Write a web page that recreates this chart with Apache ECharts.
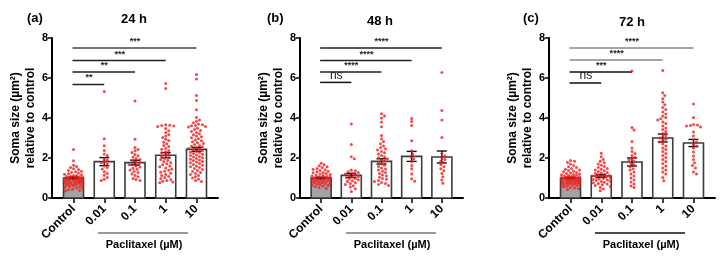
<!DOCTYPE html>
<html>
<head>
<meta charset="utf-8">
<script src="https://cdn.jsdelivr.net/npm/echarts@6/dist/echarts.min.js"></script>
<style>
  html, body { margin: 0; padding: 0; background: #fff; }
  #main { width: 722px; height: 258px; }
</style>
</head>
<body>
<div id="main"></div>
<script>
  var categories = ["Control", "0.01", "0.1", "1", "10"]
  var yTicks = [0, 2, 4, 6, 8]

  // 24 h
  var h24Control = [2.42, 1.86, 1.64, 1.57, 1.52, 1.46, 1.43, 1.37, 1.34, 1.31, 1.27, 1.25, 1.21, 1.19, 1.16, 1.13, 1.12, 1.09, 1.07, 1.06, 1.04, 1.02, 1.01, 0.99, 0.98, 0.96, 0.95, 0.94, 0.92, 0.91, 0.89, 0.88, 0.86, 0.85, 0.84, 0.82, 0.81, 0.79, 0.78, 0.76, 0.75, 0.73, 0.71, 0.7, 0.68, 0.66, 0.64, 0.62, 0.6, 0.57, 0.55, 0.53, 0.5, 0.47, 0.44, 0.41, 0.38, 0.35]
  var h24P001 = [5.32, 2.96, 2.61, 2.37, 2.2, 2.12, 1.98, 1.9, 1.82, 1.76, 1.7, 1.6, 1.52, 1.45, 1.31, 1.22, 1.14, 1.03, 0.94, 0.88]
  var h24P01 = [4.85, 2.94, 2.52, 2.43, 2.36, 2.28, 2.18, 2.11, 2.05, 1.97, 1.93, 1.86, 1.8, 1.77, 1.7, 1.66, 1.6, 1.55, 1.49, 1.44, 1.4, 1.33, 1.28, 1.2, 1.12, 1.06, 0.98, 0.92, 0.88]
  var h24P1 = [5.72, 5.48, 3.66, 3.64, 3.62, 3.6, 3.57, 3.48, 3.36, 3.28, 3.17, 3.1, 3.02, 2.94, 2.88, 2.79, 2.71, 2.63, 2.58, 2.49, 2.44, 2.37, 2.31, 2.26, 2.2, 2.14, 2.09, 2.03, 1.98, 1.93, 1.87, 1.82, 1.76, 1.71, 1.66, 1.6, 1.56, 1.5, 1.45, 1.39, 1.34, 1.29, 1.24, 1.18, 1.13, 1.08, 1.02, 0.97, 0.93, 0.88, 0.84, 0.8, 0.76]
  var h24P10 = [6.18, 5.95, 5.12, 4.87, 4.41, 4.02, 3.9, 3.84, 3.76, 3.7, 3.66, 3.63, 3.61, 3.58, 3.55, 3.49, 3.43, 3.38, 3.33, 3.27, 3.21, 3.16, 3.1, 3.06, 3.01, 2.96, 2.9, 2.86, 2.81, 2.76, 2.72, 2.67, 2.63, 2.59, 2.56, 2.52, 2.48, 2.44, 2.41, 2.37, 2.33, 2.29, 2.26, 2.22, 2.19, 2.15, 2.12, 2.08, 2.05, 2.01, 1.97, 1.94, 1.9, 1.87, 1.83, 1.8, 1.76, 1.72, 1.68, 1.64, 1.6, 1.56, 1.52, 1.47, 1.43, 1.38, 1.33, 1.28, 1.23, 1.18, 1.12, 1.06, 1.0, 0.94, 0.88, 0.83]
  var mean24 = [1.0, 1.82, 1.77, 2.14, 2.43]
  var sem24 = [0.05, 0.2, 0.12, 0.13, 0.1]
  var sig24 = ["**", "**", "***", "***"]
  var sigY24 = [5.68, 6.3, 6.87, 7.5]

  // 48 h
  var h48Control = [1.74, 1.66, 1.61, 1.56, 1.52, 1.48, 1.44, 1.41, 1.37, 1.34, 1.31, 1.28, 1.26, 1.23, 1.2, 1.18, 1.15, 1.13, 1.1, 1.08, 1.06, 1.04, 1.02, 1.0, 0.99, 0.97, 0.95, 0.94, 0.92, 0.9, 0.88, 0.87, 0.85, 0.83, 0.82, 0.8, 0.78, 0.76, 0.74, 0.72, 0.7, 0.68, 0.65, 0.62, 0.6, 0.57, 0.53, 0.48]
  var h48P001 = [3.7, 2.68, 2.06, 1.96, 1.4, 1.36, 1.31, 1.27, 1.24, 1.2, 1.16, 1.12, 1.08, 1.04, 1.01, 0.98, 0.95, 0.91, 0.86, 0.82, 0.77, 0.72, 0.67, 0.61, 0.55, 0.46, 0.32]
  var h48P01 = [4.21, 4.1, 4.0, 3.8, 3.56, 3.12, 2.96, 2.82, 2.71, 2.6, 2.52, 2.46, 2.4, 2.32, 2.26, 2.2, 2.12, 2.06, 2.01, 1.96, 1.9, 1.84, 1.78, 1.7, 1.64, 1.58, 1.5, 1.45, 1.4, 1.34, 1.28, 1.22, 1.15, 1.1, 1.04, 0.98, 0.94, 0.88, 0.83, 0.78, 0.73, 0.68, 0.63]
  var h48P1 = [3.98, 3.82, 3.62, 2.86, 2.36, 2.2, 2.06, 1.96, 1.82, 1.62, 1.46, 1.2, 0.96, 0.84]
  var h48P10 = [6.28, 4.38, 3.9, 3.03, 2.22, 2.1, 2.0, 1.92, 1.84, 1.76, 1.66, 1.56, 1.46, 1.36, 1.22, 1.06, 0.9, 0.74]
  var mean48 = [1.0, 1.13, 1.83, 2.08, 2.05]
  var sem48 = [0.04, 0.1, 0.13, 0.25, 0.3]
  var sig48 = ["ns", "****", "****", "****"]
  var sigY48 = [5.78, 6.3, 6.87, 7.5]

  // 72 h
  var h72Control = [1.88, 1.84, 1.78, 1.7, 1.62, 1.56, 1.52, 1.47, 1.44, 1.4, 1.37, 1.34, 1.31, 1.28, 1.25, 1.23, 1.2, 1.18, 1.16, 1.14, 1.12, 1.1, 1.08, 1.06, 1.05, 1.03, 1.02, 1.0, 0.99, 0.97, 0.96, 0.95, 0.93, 0.92, 0.9, 0.89, 0.88, 0.86, 0.85, 0.83, 0.82, 0.8, 0.79, 0.77, 0.76, 0.74, 0.72, 0.71, 0.69, 0.67, 0.65, 0.63, 0.61, 0.59, 0.56, 0.53, 0.5, 0.46, 0.42]
  var h72P001 = [2.24, 2.06, 1.92, 1.84, 1.76, 1.7, 1.64, 1.58, 1.52, 1.48, 1.44, 1.4, 1.36, 1.32, 1.28, 1.25, 1.22, 1.19, 1.16, 1.13, 1.1, 1.08, 1.05, 1.02, 1.0, 0.97, 0.95, 0.92, 0.9, 0.87, 0.84, 0.82, 0.79, 0.76, 0.73, 0.7, 0.66, 0.62, 0.58, 0.52, 0.45, 0.36]
  var h72P01 = [6.35, 3.53, 3.4, 2.82, 2.5, 2.32, 2.22, 2.12, 2.02, 1.96, 1.9, 1.82, 1.72, 1.66, 1.56, 1.46, 1.4, 1.3, 1.2, 1.1, 1.0, 0.9, 0.8, 0.7, 0.6, 0.52]
  var h72P1 = [6.38, 5.26, 5.12, 4.96, 4.8, 4.66, 4.52, 4.42, 4.3, 4.2, 4.1, 4.02, 3.96, 3.9, 3.8, 3.72, 3.6, 3.5, 3.42, 3.32, 3.22, 3.12, 3.06, 3.0, 2.94, 2.88, 2.8, 2.7, 2.6, 2.5, 2.42, 2.32, 2.22, 2.12, 2.02, 1.92, 1.82, 1.72, 1.6, 1.5, 1.4, 1.3, 1.2, 1.02, 0.86]
  var h72P10 = [4.7, 4.02, 3.68, 3.65, 3.62, 3.6, 3.55, 3.3, 3.1, 2.92, 2.8, 2.7, 2.6, 2.5, 2.3, 2.1, 1.92, 1.76, 1.62, 1.5, 1.3, 1.2]
  var mean72 = [1.0, 1.1, 1.8, 3.0, 2.75]
  var sem72 = [0.04, 0.07, 0.2, 0.2, 0.18]
  var sig72 = ["ns", "***", "****", "****"]
  var sigY72 = [5.75, 6.3, 6.9, 7.5]

  var FONT = "Arial, 'Liberation Sans', sans-serif"
  var X_MIN = -0.7
  var X_MAX = 4.7

  var panels = [
    { tag: "(a)", time: "24 h", left: 52, width: 166, groups: [h24Control, h24P001, h24P01, h24P1, h24P10], mean: mean24, sem: sem24, sig: sig24, sigY: sigY24, bracketColors: ["#222", "#222", "#222", "#444"], tagX: 27, timeX: 134, timeY: 19, lineColor: "#777" },
    { tag: "(b)", time: "48 h", left: 300, width: 163, groups: [h48Control, h48P001, h48P01, h48P1, h48P10], mean: mean48, sem: sem48, sig: sig48, sigY: sigY48, bracketColors: ["#111", "#222", "#222", "#222"], tagX: 267, timeX: 380, timeY: 21, lineColor: "#777" },
    { tag: "(c)", time: "72 h", left: 549, width: 166, groups: [h72Control, h72P001, h72P01, h72P1, h72P10], mean: mean72, sem: sem72, sig: sig72, sigY: sigY72, bracketColors: ["#111", "#111", "#888", "#888"], tagX: 523, timeX: 632, timeY: 22, lineColor: "#111" }
  ]

  var GRID_TOP = 38
  var GRID_H = 160

  // 点的蜂群排布（像素空间避让）
  function swarm(values, idx, pxX, pxY) {
    var d = 3.2
    var maxOff = 9
    var placed = []
    var sorted = values.slice().sort(function (a, b) { return b - a })
    return sorted.map(function (v) {
      var y = v * pxY
      var best = 0
      var bestGap = -1
      for (var k = 0; k <= 2 * maxOff; k++) {
        var off = (k % 2 ? 1 : -1) * Math.ceil(k / 2)
        var gap = Infinity
        placed.forEach(function (p) {
          var g = Math.hypot(p[0] - off, p[1] - y)
          if (g < gap) gap = g
        })
        if (gap >= d) { best = off; break }
        if (gap > bestGap) { bestGap = gap; best = off }
      }
      placed.push([best, y])
      return [idx + best / pxX, v]
    })
  }

  var option = { animation: false, grid: [], xAxis: [], yAxis: [], series: [], graphic: [] }

  panels.forEach(function (p, k) {
    option.grid.push({ left: p.left, top: GRID_TOP, width: p.width, height: GRID_H })
    option.xAxis.push({
      gridIndex: k,
      type: "value",
      min: X_MIN,
      max: X_MAX,
      splitLine: { show: false },
      axisLine: { lineStyle: { color: "#000", width: 2 } },
      axisTick: { customValues: [0, 1, 2, 3, 4], length: 5, lineStyle: { color: "#000", width: 1.5 } },
      axisLabel: {
        customValues: [0, 1, 2, 3, 4],
        formatter: function (v) { return categories[Math.round(v)] },
        rotate: 45,
        margin: 9,
        color: "#000",
        fontSize: 12,
        fontWeight: "bold",
        fontFamily: FONT
      }
    })
    option.yAxis.push({
      gridIndex: k,
      type: "value",
      min: 0,
      max: 8,
      interval: 2,
      splitLine: { show: false },
      axisLine: { show: true, onZero: false, lineStyle: { color: "#000", width: 2 } },
      axisTick: { show: true, length: 4, lineStyle: { color: "#000", width: 1.5 } },
      axisLabel: {
        margin: 4,
        color: "#000",
        fontSize: 11,
        fontWeight: "bold",
        fontFamily: FONT,
        formatter: function (v) { return yTicks.indexOf(v) >= 0 ? String(v) : "" }
      },
      name: "Soma size (µm²)\nrelative to control",
      nameLocation: "middle",
      nameGap: 14,
      nameTextStyle: { color: "#000", fontSize: 12, fontWeight: "bold", fontFamily: FONT, lineHeight: 15 }
    })

    var pxX = p.width / (X_MAX - X_MIN)
    var pxY = GRID_H / 8

    // 柱
    option.series.push({
      type: "custom",
      xAxisIndex: k,
      yAxisIndex: k,
      data: p.mean.map(function (m, i) { return [i, m] }),
      renderItem: function (params, api) {
        var i = api.value(0)
        var top = api.coord([i, api.value(1)])
        var base = api.coord([i, 0])
        return {
          type: "rect",
          shape: { x: top[0] - 10, y: top[1], width: 20, height: base[1] - top[1] },
          style: { fill: i === 0 ? "#a3a3a3" : "#fff", stroke: "#3c3c3c", lineWidth: 1.6 }
        }
      }
    })

    // 散点
    var pts = []
    p.groups.forEach(function (g, i) { pts = pts.concat(swarm(g, i, pxX, pxY)) })
    option.series.push({
      type: "scatter",
      xAxisIndex: k,
      yAxisIndex: k,
      data: pts,
      symbol: "circle",
      symbolSize: 3,
      itemStyle: { color: "#f21c1c" }
    })

    // 误差线
    option.series.push({
      type: "custom",
      xAxisIndex: k,
      yAxisIndex: k,
      data: p.mean.map(function (m, i) { return [i, m, p.sem[i]] }),
      renderItem: function (params, api) {
        var i = api.value(0)
        var m = api.value(1)
        var s = api.value(2)
        var hi = api.coord([i, m + s])
        var lo = api.coord([i, m - s])
        var st = { stroke: "#111", lineWidth: 1.4 }
        return {
          type: "group",
          children: [
            { type: "line", shape: { x1: hi[0], y1: hi[1], x2: lo[0], y2: lo[1] }, style: st },
            { type: "line", shape: { x1: hi[0] - 5, y1: hi[1], x2: hi[0] + 5, y2: hi[1] }, style: st },
            { type: "line", shape: { x1: lo[0] - 5, y1: lo[1], x2: lo[0] + 5, y2: lo[1] }, style: st }
          ]
        }
      }
    })

    // 显著性标注
    option.series.push({
      type: "custom",
      xAxisIndex: k,
      yAxisIndex: k,
      data: p.sigY.map(function (y, j) { return [j + 1, y] }),
      renderItem: function (params, api) {
        var j = params.dataIndex
        var a = api.coord([0, api.value(1)])
        var b = api.coord([api.value(0), api.value(1)])
        var label = p.sig[j]
        var isNs = label === "ns"
        return {
          type: "group",
          children: [
            { type: "line", shape: { x1: a[0] - 1, y1: a[1], x2: b[0], y2: b[1] }, style: { stroke: p.bracketColors[j], lineWidth: 1.5 } },
            {
              type: "text",
              x: (a[0] + b[0]) / 2,
              y: a[1] - (isNs ? 1 : 2),
              style: {
                text: label,
                fill: "#222",
                align: "center",
                verticalAlign: "bottom",
                fontSize: isNs ? 12 : 9,
                fontWeight: isNs ? "normal" : "bold",
                fontFamily: FONT
              }
            }
          ]
        }
      }
    })

    // 标题与 Paclitaxel 标注
    option.graphic.push(
      { type: "text", x: p.tagX, y: 18, style: { text: p.tag, fill: "#000", fontSize: 13, fontWeight: "bold", fontFamily: FONT, align: "left", verticalAlign: "middle" } },
      { type: "text", x: p.timeX, y: p.timeY, style: { text: p.time, fill: "#000", fontSize: 13, fontWeight: "bold", fontFamily: FONT, align: "center", verticalAlign: "middle" } },
      { type: "line", shape: { x1: p.left + 46, y1: 233, x2: p.left + 136, y2: 233 }, style: { stroke: p.lineColor, lineWidth: 1.5 } },
      { type: "text", x: p.left + 92, y: 245, style: { text: "Paclitaxel (µM)", fill: "#000", fontSize: 11, fontWeight: "bold", fontFamily: FONT, align: "center", verticalAlign: "middle" } }
    )
  })

  var chart = echarts.init(document.getElementById("main"))
  chart.setOption(option)
</script>
</body>
</html>
